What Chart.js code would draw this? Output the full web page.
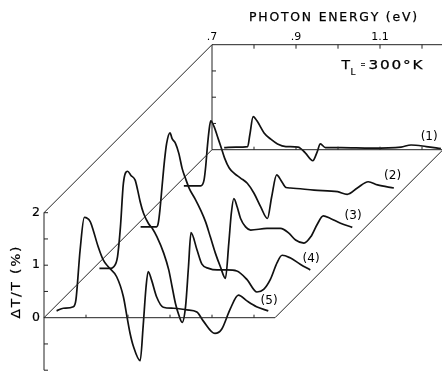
<!DOCTYPE html>
<html><head><meta charset="utf-8">
<script src="https://cdn.jsdelivr.net/npm/chart.js@4"></script>
<style>html,body{margin:0;padding:0;background:#fff;}canvas{display:block;}</style>
</head><body>
<canvas id="c" width="442" height="372"></canvas>
<script>
// ---- data (photon energy in eV, ΔT/T in %) ----
const energy1 = [0.729,0.757,0.785,0.790,0.798,0.807,0.824,0.840,0.856,0.876,0.905,0.922,0.940,0.950,0.958,0.970,1.007,1.079,1.150,1.174,1.210,1.245];
const dtt1    = [0.04,0.05,0.06,0.28,0.63,0.55,0.32,0.20,0.11,0.06,0.05,-0.06,-0.21,-0.05,0.11,0.04,0.04,0.03,0.05,0.09,0.06,0.02];

const energy2 = [0.733,0.773,0.781,0.785,0.789,0.793,0.797,0.805,0.813,0.821,0.830,0.841,0.853,0.868,0.884,0.900,0.916,0.932,0.942,0.954,0.964,0.976,0.987,1.043,1.099,1.122,1.146,1.172,1.194,1.233];
const dtt2    = [0.11,0.11,0.22,0.48,0.86,1.17,1.35,1.24,1.05,0.86,0.64,0.45,0.35,0.26,0.16,-0.03,-0.29,-0.51,-0.10,0.32,0.22,0.08,0.07,0.03,0.00,-0.05,0.07,0.19,0.13,0.07];

const energy3 = [0.730,0.768,0.772,0.776,0.781,0.787,0.792,0.800,0.805,0.813,0.821,0.829,0.837,0.846,0.860,0.873,0.885,0.896,0.908,0.920,0.932,0.940,0.946,0.952,0.960,0.968,0.980,0.992,1.031,1.063,1.083,1.099,1.119,1.135,1.150,1.165,1.182,1.206,1.234];
const dtt3    = [0.13,0.13,0.20,0.45,0.89,1.40,1.72,1.92,1.81,1.72,1.53,1.24,1.05,0.86,0.66,0.45,0.22,-0.06,-0.37,-0.63,-0.85,-0.18,0.39,0.67,0.51,0.29,0.13,0.07,0.10,0.10,0.01,-0.12,-0.18,-0.06,0.17,0.34,0.29,0.20,0.12];

const energy4 = [0.732,0.758,0.766,0.775,0.782,0.789,0.799,0.807,0.817,0.823,0.829,0.837,0.849,0.858,0.869,0.885,0.897,0.905,0.913,0.921,0.929,0.937,0.944,0.950,0.964,0.976,0.992,1.012,1.036,1.059,1.083,1.107,1.123,1.139,1.155,1.167,1.186,1.210,1.234];
const dtt4    = [0.14,0.14,0.17,0.36,0.93,1.76,1.99,1.91,1.82,1.63,1.41,1.19,0.99,0.90,0.74,0.43,0.11,-0.21,-0.53,-0.75,-0.89,-0.59,0.17,0.82,0.50,0.22,0.14,0.11,0.11,0.09,-0.07,-0.31,-0.26,-0.07,0.25,0.39,0.34,0.22,0.11];

const energy5 = [0.730,0.746,0.770,0.776,0.786,0.796,0.810,0.817,0.829,0.841,0.852,0.873,0.889,0.898,0.905,0.913,0.929,0.936,0.943,0.948,0.956,0.968,0.984,1.008,1.040,1.064,1.079,1.107,1.123,1.143,1.163,1.183,1.206,1.234];
const dtt5    = [0.13,0.18,0.21,0.34,1.29,1.91,1.83,1.67,1.35,1.10,0.98,0.78,0.40,0.00,-0.30,-0.55,-0.82,-0.17,0.59,0.88,0.72,0.40,0.20,0.18,0.15,0.11,-0.06,-0.30,-0.22,0.16,0.43,0.32,0.21,0.13];

const curveLabels = ['(1)','(2)','(3)','(4)','(5)'];
const labelEnergy = [1.217,1.230,1.236,1.236,1.236];
const labelDtt    = [0.25,0.30,0.34,0.32,0.32];

const energyTicks = [0.8,0.9,1.0,1.1,1.2];
const energyTickLabels = [['.7',0.7],['.9',0.9],['1.1',1.1]];
const dttTicks = [-1,-0.5,0.5,1,1.5,2];
const backDttTicks = [0.5,1,1.5];
const dttTickLabels = [['2',2],['1',1],['0',0]];

// ---- oblique projection: depth steps (curve 5 front, curve 1 back) ----
const E_MIN = 0.7, E_MAX = 1.25, V_MIN = -1, V_MAX = 2;
const STEP_E = 0.1, STEP_V = 0.8, DEPTH = 4;
function proj(e, v, k){ return {x: e + k*STEP_E, y: v + k*STEP_V}; }
function series(es, vs, k){ return es.map((e,i)=>proj(e, vs[i], k)); }

const curves = [[energy1,dtt1,4],[energy2,dtt2,3],[energy3,dtt3,2],[energy4,dtt4,1],[energy5,dtt5,0]];

const frameLines = [
  [proj(E_MIN,V_MIN,0), proj(E_MIN,V_MAX,0)],
  [proj(E_MIN,0,0), proj(E_MAX,0,0)],
  [proj(E_MIN,0,DEPTH), proj(E_MAX,0,DEPTH)],
  [proj(E_MIN,0,DEPTH), proj(E_MIN,V_MAX,DEPTH)],
  [proj(E_MIN,V_MAX,DEPTH), proj(E_MAX,V_MAX,DEPTH)],
  [proj(E_MIN,0,0), proj(E_MIN,0,DEPTH)],
  [proj(E_MIN,V_MAX,0), proj(E_MIN,V_MAX,DEPTH)],
  [proj(E_MAX,0,0), proj(E_MAX,0,DEPTH)]
];

const datasets = [];
frameLines.forEach(l=>datasets.push({data:l, showLine:true, borderColor:'#222', borderWidth:1, pointRadius:0, clip:false}));
curves.forEach(c=>datasets.push({data:series(c[0],c[1],c[2]), showLine:true, borderColor:'#111', borderWidth:1.7, pointRadius:0, clip:false, cubicInterpolationMode:'monotone'}));

const PX_PER_EV = 420, PX_PER_UNIT = 52.5;
const xMin = 0.7 - 44/PX_PER_EV, xMax = xMin + 442/PX_PER_EV;
const yMax = 317.7/PX_PER_UNIT, yMin = yMax - 372/PX_PER_UNIT;

const FONT = '"DejaVu Sans", Verdana, sans-serif';
// draw text stretched horizontally so it spans x0..x1 with a fixed letter gap
function fit(ctx, text, x0, x1, y, size, gap, stroke){
  ctx.font = size+'px '+FONT;
  const chars = [...text];
  const widths = chars.map(c=>ctx.measureText(c).width);
  const total = widths.reduce((a,b)=>a+b,0);
  const sx = ((x1-x0) - gap*(chars.length-1))/total;
  ctx.save();
  ctx.textAlign='left';
  ctx.translate(x0, y);
  ctx.scale(sx, 1);
  ctx.lineWidth = stroke||0;
  let x = 0;
  chars.forEach((c,i)=>{ ctx.fillText(c, x, 0); if(stroke) ctx.strokeText(c, x, 0); x += widths[i] + gap/sx; });
  ctx.restore();
}

const decor = {
  id:'decor',
  afterDatasetsDraw(chart){
    const ctx = chart.ctx, xs = chart.scales.x, ys = chart.scales.y;
    const P = (e,v,k)=>{ const p = proj(e,v,k); return [xs.getPixelForValue(p.x), ys.getPixelForValue(p.y)]; };
    ctx.save();
    ctx.strokeStyle='#222'; ctx.lineWidth=1;
    ctx.beginPath();
    energyTicks.forEach(e=>{
      let [x,y]=P(e,0,0); ctx.moveTo(x,y); ctx.lineTo(x,y-3);
      [x,y]=P(e,0,DEPTH); ctx.moveTo(x,y); ctx.lineTo(x,y-3);
      [x,y]=P(e,V_MAX,DEPTH); ctx.moveTo(x,y); ctx.lineTo(x,y+4);
    });
    dttTicks.forEach(v=>{ const [x,y]=P(E_MIN,v,0); ctx.moveTo(x,y); ctx.lineTo(x+4,y); });
    backDttTicks.forEach(v=>{ const [x,y]=P(E_MIN,v,DEPTH); ctx.moveTo(x,y); ctx.lineTo(x+4,y); });
    ctx.stroke();

    ctx.fillStyle='#000'; ctx.strokeStyle='#000';
    ctx.textBaseline='alphabetic';
    // top energy tick labels
    ctx.font='11px '+FONT;
    ctx.textAlign='center';
    energyTickLabels.forEach(([t,e])=>{ const [x,y]=P(e,V_MAX,DEPTH); ctx.fillText(t, x, y-5); });
    // title
    fit(ctx, 'PHOTON ENERGY (eV)', 249, 417, 20.8, 11.5, 1.8, 0.25);
    // T_L = 300°K
    fit(ctx, 'T', 341.5, 350, 68.5, 11.5, 0, 0.25);
    fit(ctx, 'L', 350.5, 355.5, 74.5, 9, 0, 0.2);
    fit(ctx, '=', 360.5, 365.5, 66.8, 9.5, 0, 0.4);
    fit(ctx, '300°K', 368.5, 422.5, 68.5, 12, 1.8, 0.25);
    // y tick labels
    ctx.font='12.5px '+FONT;
    ctx.textAlign='center'; ctx.textBaseline='middle';
    ctx.lineWidth=0.2;
    dttTickLabels.forEach(([t,v])=>{ const [x,y]=P(E_MIN,v,0); ctx.fillText(t, x-8, y); ctx.strokeText(t, x-8, y); });
    // curve labels
    ctx.font='12px '+FONT;
    curveLabels.forEach((t,i)=>{ const [x,y]=P(labelEnergy[i], labelDtt[i], DEPTH-i); ctx.fillText(t, x, y); });
    // y axis title
    ctx.save();
    ctx.translate(17, 282.5);
    ctx.rotate(-Math.PI/2);
    ctx.textBaseline='middle';
    fit(ctx, 'ΔT/T (%)', -36, 36, 0, 12, 1.8, 0.2);
    ctx.restore();
    ctx.restore();
  }
};

new Chart(document.getElementById('c'), {
  type:'scatter',
  data:{datasets},
  options:{
    responsive:false, devicePixelRatio:1, animation:false,
    layout:{padding:0},
    plugins:{legend:{display:false}, tooltip:{enabled:false}, title:{display:false}},
    scales:{
      x:{type:'linear', display:false, min:xMin, max:xMax},
      y:{type:'linear', display:false, min:yMin, max:yMax}
    }
  },
  plugins:[decor]
});
</script>
</body></html>
